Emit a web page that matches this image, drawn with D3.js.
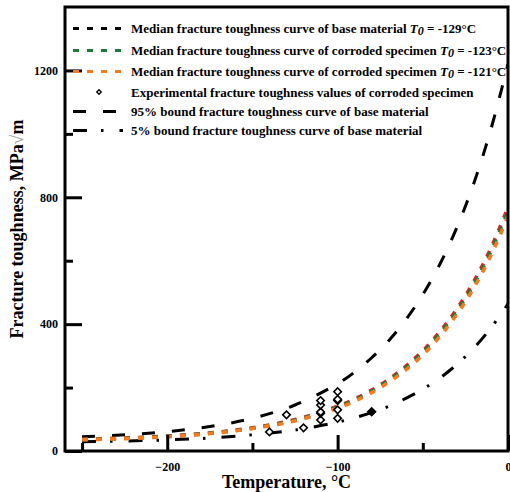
<!DOCTYPE html>
<html>
<head>
<meta charset="utf-8">
<script src="https://cdn.jsdelivr.net/npm/d3@7"></script>
<style>
  html, body { margin: 0; padding: 0; background: #fff; }
  svg { display: block; }
  text { font-family: "Liberation Serif", "Times New Roman", serif; font-weight: bold; fill: #000; }
</style>
</head>
<body>
<svg id="chart" width="510" height="492"></svg>
<script>
// Temperatures (°C) at which the curves are sampled
const temps = [-250, -225, -200, -175, -150, -125, -100, -90, -80, -70, -60, -50, -40, -30, -20, -10, 0];

// Median fracture toughness curves (MPa√m)
const medianBase   = [37, 41, 47, 57, 73, 99, 141, 164, 192, 226, 267, 316, 376, 448, 535, 640, 768];
const medianT0_123 = [36, 40, 46, 56, 72, 97, 138, 161, 188, 222, 262, 310, 369, 440, 525, 629, 754];
const medianT0_121 = [35.5, 39, 45, 55, 71, 95, 135, 157, 184, 217, 256, 303, 361, 431, 515, 617, 740];

// Tolerance bounds of the base material
const bound95 = [45, 51, 61, 77, 103, 145, 212, 249, 294, 348, 414, 493, 589, 705, 845, 1015, 1220];
const bound05 = [29, 31.5, 35, 41, 51, 66, 91, 105, 121, 141, 166, 195, 230, 273, 325, 388, 464];

// Experimental values of the corroded specimens
const expTemps  = [-140, -130, -120, -110, -110, -110, -110, -110, -100, -100, -100, -100, -100];
const expValues = [60, 114, 73, 98, 119, 123, 145, 159, 103, 130, 159, 163, 187];
const filledTemps  = [-80];
const filledValues = [124];

// Axis ticks
const xMajorTicks = [-200, -100, 0];
const xMinorTicks = [-250, -150, -50];
const yMajorTicks = [0, 400, 800, 1200];
const yMinorTicks = [200, 600, 1000];

const svg = d3.select("#chart");
const box = { left: 65, right: 508, top: 7, bottom: 451 };

const x = d3.scaleLinear().domain([-260, 0]).range([box.left, box.right]);
const y = d3.scaleLinear().domain([0, 1400]).range([box.bottom, box.top]);

svg.append("defs").append("clipPath").attr("id", "plotClip")
  .append("rect").attr("x", box.left).attr("y", box.top)
  .attr("width", box.right - box.left).attr("height", box.bottom - box.top);

const plot = svg.append("g").attr("clip-path", "url(#plotClip)");

const line = d3.line()
  .x(d => x(d[0]))
  .y(d => y(d[1]))
  .curve(d3.curveCatmullRom.alpha(0.5));

function drawCurve(values, color, width, dash) {
  plot.append("path")
    .datum(temps.map((t, i) => [t, values[i]]))
    .attr("d", line)
    .attr("fill", "none")
    .attr("stroke", color)
    .attr("stroke-width", width)
    .attr("stroke-dasharray", dash);
}

const RED = "#e3231f", GREEN = "#1d7a3c", ORANGE = "#f47a20";
const dashMedian = "6,8";
const dash95 = "13,17";
const dash05 = "14,14,2.5,16";

drawCurve(bound95, "#000", 3, dash95);
drawCurve(bound05, "#000", 3, dash05);
drawCurve(medianBase, RED, 3.6, dashMedian);
drawCurve(medianT0_123, GREEN, 3.6, dashMedian);
drawCurve(medianT0_121, ORANGE, 3.6, dashMedian);

// Experimental points: hollow diamonds
const diamond = d3.symbol().type(d3.symbolSquare).size(28);
plot.selectAll("path.exp")
  .data(expTemps.map((t, i) => [t, expValues[i]]))
  .join("path")
  .attr("class", "exp")
  .attr("d", diamond)
  .attr("transform", d => `translate(${x(d[0])},${y(d[1])}) rotate(45)`)
  .attr("fill", "#fff")
  .attr("stroke", "#000")
  .attr("stroke-width", 1.6);

plot.selectAll("path.filled")
  .data(filledTemps.map((t, i) => [t, filledValues[i]]))
  .join("path")
  .attr("class", "filled")
  .attr("d", d3.symbol().type(d3.symbolSquare).size(34))
  .attr("transform", d => `translate(${x(d[0])},${y(d[1])}) rotate(45)`)
  .attr("fill", "#000")
  .attr("stroke", "#000")
  .attr("stroke-width", 1.2);

// Axes with inward ticks
function styleAxis(g) {
  g.select(".domain").remove();
  g.selectAll(".tick line").attr("stroke", "#000").attr("stroke-width", 3);
  g.selectAll(".tick text").style("font-size", "12px").style("font-weight", "bold");
}

svg.append("g").attr("transform", `translate(0,${box.bottom})`)
  .call(d3.axisBottom(x).tickValues(xMajorTicks).tickSize(-16).tickPadding(11)
    .tickFormat(d3.format("d")))
  .call(styleAxis);
svg.append("g").attr("transform", `translate(0,${box.bottom})`)
  .call(d3.axisBottom(x).tickValues(xMinorTicks).tickSize(-8).tickFormat(""))
  .call(styleAxis);

svg.append("g").attr("transform", `translate(${box.left},0)`)
  .call(d3.axisLeft(y).tickValues(yMajorTicks).tickSize(-17).tickPadding(7)
    .tickFormat(d3.format("d")))
  .call(styleAxis);
svg.append("g").attr("transform", `translate(${box.left},0)`)
  .call(d3.axisLeft(y).tickValues(yMinorTicks).tickSize(-8).tickFormat(""))
  .call(styleAxis);

// Frame
svg.append("rect")
  .attr("x", box.left).attr("y", box.top)
  .attr("width", box.right - box.left).attr("height", box.bottom - box.top)
  .attr("fill", "none").attr("stroke", "#000").attr("stroke-width", 3);

// Axis titles
svg.append("text")
  .attr("x", (box.left + box.right) / 2).attr("y", 488)
  .attr("text-anchor", "middle")
  .style("font-size", "18px")
  .text("Temperature, °C");

const yTitle = svg.append("text")
  .attr("transform", `translate(23,${(box.top + box.bottom) / 2}) rotate(-90)`)
  .attr("text-anchor", "middle")
  .style("font-size", "18px");
yTitle.append("tspan").text("Fracture toughness, MPa");
yTitle.append("tspan").style("font-weight", "normal").style("fill", "#a0a0a0").text("√");
yTitle.append("tspan").text("m");

// Legend
const legendLabels = [
  { pre: "Median fracture toughness curve of base material ", t0: " = -129°C" },
  { pre: "Median fracture toughness curve of corroded specimen ", t0: " = -123°C" },
  { pre: "Median fracture toughness curve of corroded specimen ", t0: " = -121°C" },
  { pre: "Experimental fracture toughness values of corroded specimen" },
  { pre: "95% bound fracture toughness curve of base material" },
  { pre: "5% bound fracture toughness curve of base material" }
];
const legendStyles = [
  { kind: "line", color: "#000", width: 3, dash: dashMedian },
  { kind: "line", color: GREEN, width: 3, dash: dashMedian },
  { kind: "line", color: ORANGE, width: 3, dash: dashMedian },
  { kind: "diamond" },
  { kind: "line", color: "#000", width: 3, dash: dash95 },
  { kind: "line", color: "#000", width: 3, dash: dash05 }
];
const legendRowY = [28.5, 50.5, 71.5, 92, 111.5, 130.5];

const legend = svg.append("g");
legendLabels.forEach((lab, i) => {
  const cy = legendRowY[i];
  const st = legendStyles[i];
  if (st.kind === "line") {
    legend.append("line")
      .attr("x1", 73).attr("x2", 123).attr("y1", cy).attr("y2", cy)
      .attr("stroke", st.color).attr("stroke-width", st.width)
      .attr("stroke-dasharray", st.dash);
  } else {
    legend.append("path")
      .attr("d", d3.symbol().type(d3.symbolSquare).size(10))
      .attr("transform", `translate(99,${cy}) rotate(45)`)
      .attr("fill", "#fff").attr("stroke", "#000").attr("stroke-width", 1.3);
  }
  const t = legend.append("text")
    .attr("x", 131).attr("y", cy + 4.5)
    .style("font-size", "13px");
  t.append("tspan").text(lab.pre);
  if (lab.t0) {
    t.append("tspan").style("font-style", "italic").text("T");
    t.append("tspan").style("font-style", "italic").style("font-size", "12px")
      .attr("dy", 2).text("0");
    t.append("tspan").attr("dy", -2).text(lab.t0);
  }
});
</script>
</body>
</html>
